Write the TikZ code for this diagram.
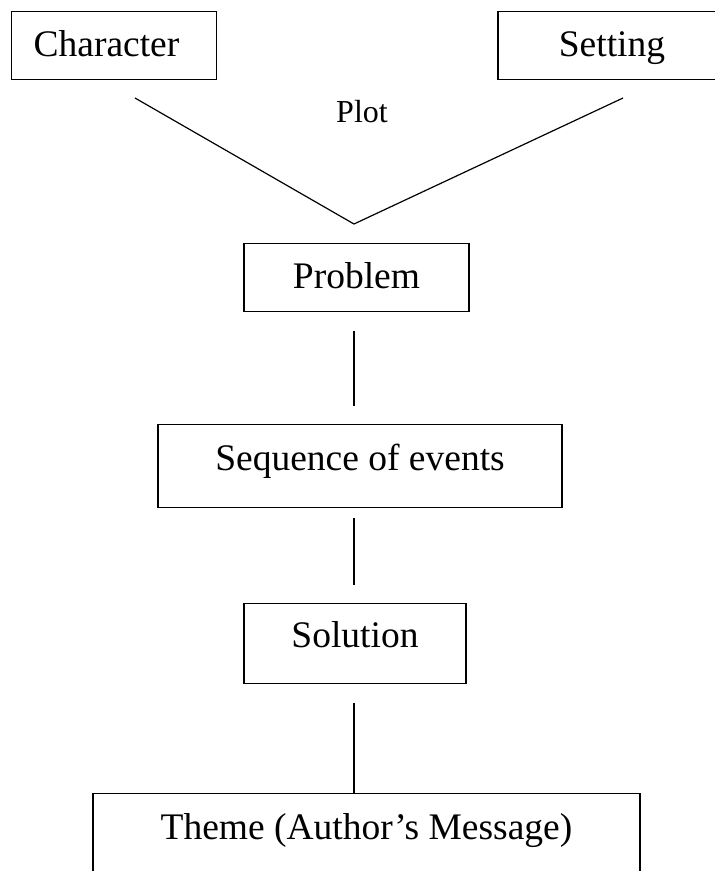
\documentclass[tikz,border=0pt]{standalone}
\usepackage{fontspec}
\setmainfont{Liberation Serif}
\newcommand{\boxfont}{\fontsize{37.5}{40}\selectfont}
\newcommand{\plotfont}{\fontsize{32}{34}\selectfont}

\begin{document}
\begin{tikzpicture}[x=1pt,y=-1pt,
    box/.style={draw,line width=1.2pt,inner xsep=0pt,inner ysep=0pt,
      align=center,font=\boxfont,anchor=north}]
      \useasboundingbox (0,0) rectangle (715,871);
      \clip (0,0) rectangle (715,871);
      \draw
        (11,11) node[box,anchor=north west,align=left,text width=161pt,inner xsep=22pt,
          text height=45pt,text depth=23pt] (character){Character}
        (612,11) node[box,minimum width=228pt,text height=45pt,text depth=23pt] (setting){Setting}
        (362,122) node[anchor=base,font=\plotfont] (plot){Plot}
        (356.5,243) node[box,minimum width=225pt,text height=45pt,text depth=23pt] (problem){Problem}
        (360,424) node[box,minimum width=404pt,text height=46pt,text depth=37pt] (events){Sequence of events}
        (355,603) node[box,minimum width=222pt,text height=44pt,text depth=36pt] (solution){Solution}
        (366.5,793) node[box,minimum width=547pt,text height=46pt,text depth=70pt] (theme){Theme (Author’s Message)};
      \coordinate (vleft) at (135,98);
      \coordinate (vtip) at (354,224);
      \coordinate (vright) at (623,98);
      \begin{scope}[-,line width=1.2pt]
        \draw (vleft) to (vtip);
        \draw (vtip) to (vright);
        \draw[shorten <=19pt,shorten >=18pt] (problem.south -| vtip) to (events.north -| vtip);
        \draw[shorten <=10pt,shorten >=18pt] (events.south -| vtip) to (solution.north -| vtip);
        \draw[shorten <=19pt] (solution.south -| vtip) to (theme.north -| vtip);
      \end{scope}
    \end{tikzpicture}
\end{document}
